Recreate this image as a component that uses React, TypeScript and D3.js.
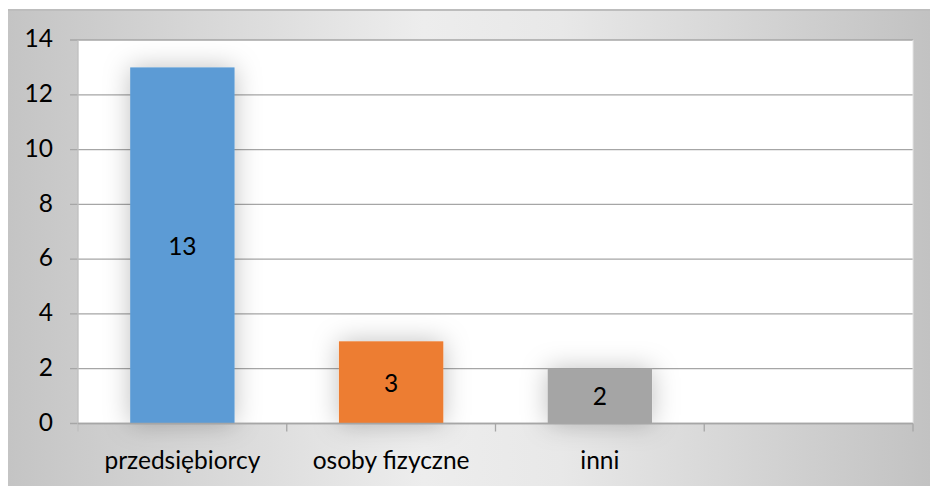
import React from "react";
import * as d3 from "d3";

const categories = ["przedsiębiorcy", "osoby fizyczne", "inni", ""];
const values: (number | null)[] = [13, 3, 2, null];
const colors = ["#5b9bd5", "#ed7d31", "#a5a5a5", "#ffc000"];
const yTicks = [0, 2, 4, 6, 8, 10, 12, 14];

const W = 930;
const H = 486;
const M = { left: 78, right: 913, top: 40, bottom: 423.5 };
const FONT = "Lato, 'Open Sans', sans-serif";

export default function App() {
  const x = d3
    .scaleBand<string>()
    .domain(categories.map((c, i) => String(i)))
    .range([M.left, M.right])
    .paddingInner(0.5)
    .paddingOuter(0.25);
  const y = d3.scaleLinear().domain([0, 14]).range([M.bottom, M.top]);
  const step = (M.right - M.left) / categories.length;

  return (
    <svg
      width={W}
      height={H}
      style={{ position: "absolute", left: 0, top: 0 }}
      fontFamily={FONT}
    >
      <defs>
        <linearGradient id="bg" x1="0" y1="0" x2="1" y2="0">
          <stop offset="0" stopColor="#c4c4c4" />
          <stop offset="0.45" stopColor="#ededed" />
          <stop offset="0.6" stopColor="#e8e8e8" />
          <stop offset="1" stopColor="#c2c2c2" />
        </linearGradient>
        <filter id="glow" x="-50%" y="-50%" width="200%" height="200%">
          <feDropShadow dx="0" dy="0" stdDeviation="13" floodColor="#000" floodOpacity="0.25" />
        </filter>
      </defs>
      <rect x={0} y={0} width={W} height={H} fill="#ffffff" />
      <rect x={8} y={9} width={W - 8} height={H - 9} fill="url(#bg)" />
      <line x1={8} x2={W} y1={10} y2={10} stroke="#bdbdbd" strokeWidth={2} />
      <rect x={M.left} y={M.top} width={M.right - M.left} height={M.bottom - M.top} fill="#ffffff" />
      {yTicks.map((t) => (
        <line
          key={t}
          x1={M.left - 8}
          x2={M.right}
          y1={y(t)}
          y2={y(t)}
          stroke="#a6a6a6"
          strokeWidth={1.3}
        />
      ))}
      <line x1={M.left} x2={M.left} y1={M.top} y2={M.bottom + 8} stroke="#bfbfbf" strokeWidth={1.3} />
      <line x1={M.right} x2={M.right} y1={M.top} y2={M.bottom} stroke="#e4e4e4" strokeWidth={1} />
      {values.map((v, i) =>
        v == null ? null : (
          <rect
            key={i}
            x={x(String(i))}
            y={y(v)}
            width={x.bandwidth()}
            height={y(0) - y(v)}
            fill={colors[i]}
            filter="url(#glow)"
          />
        )
      )}
      <line x1={M.left} x2={M.right} y1={y(0)} y2={y(0)} stroke="#a6a6a6" strokeWidth={1.3} />
      {categories.map((c, i) => (
        <line
          key={"xt" + i}
          x1={M.left + step * (i + 1)}
          x2={M.left + step * (i + 1)}
          y1={y(0)}
          y2={y(0) + 8}
          stroke="#a6a6a6"
          strokeWidth={1.3}
        />
      ))}
      {values.map((v, i) =>
        v == null ? null : (
          <text
            key={"vl" + i}
            x={(x(String(i)) as number) + x.bandwidth() / 2}
            y={(y(v) + y(0)) / 2 + 3}
            textAnchor="middle"
            dominantBaseline="middle"
            fontSize={24.5}
            fill="#000"
          >
            {v}
          </text>
        )
      )}
      {yTicks.map((t) => (
        <text
          key={"yl" + t}
          x={53}
          y={y(t) + 1}
          textAnchor="end"
          dominantBaseline="middle"
          fontSize={24.5}
          fill="#000"
        >
          {t}
        </text>
      ))}
      {categories.map((c, i) => (
        <text
          key={"cl" + i}
          x={M.left + step * (i + 0.5)}
          y={469}
          textAnchor="middle"
          fontSize={24.5}
          fill="#000"
        >
          {c}
        </text>
      ))}
    </svg>
  );
}
